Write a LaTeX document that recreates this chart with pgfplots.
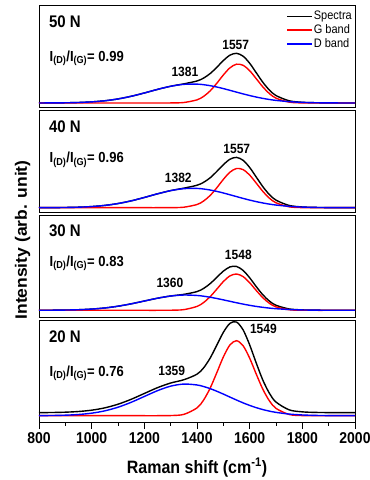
\documentclass[border=0pt]{standalone}
\usepackage{graphicx}
\usepackage{pgfplots}
\usepackage{pgfplotstable}
\pgfplotsset{compat=1.18}
\usepackage{fontspec}
\setmainfont{Liberation Sans}

\pgfplotstableread{
x spec g d
800 0.03 0 0.03
850 0.08 0 0.08
900 0.21 0 0.21
950 0.50 0 0.50
1000 1.12 0 1.12
1050 2.24 0 2.24
1100 4.06 0 4.06
1150 6.70 0 6.70
1200 10.02 0 10.02
1250 13.59 0 13.59
1300 16.76 0.05 16.71
1350 19.14 0.49 18.65
1400 22.02 3.15 18.87
1425 24.89 6.59 18.30
1450 29.44 12.13 17.31
1475 35.65 19.66 15.99
1500 42.41 28.00 14.41
1525 47.81 35.14 12.67
1550 49.68 38.80 10.88
1575 46.81 37.70 9.11
1600 39.75 32.30 7.45
1625 30.24 24.30 5.94
1650 20.72 16.10 4.62
1675 12.93 9.42 3.51
1700 7.44 4.84 2.60
1750 2.20 0.87 1.33
1800 0.71 0.09 0.62
1850 0.26 0 0.26
1900 0.10 0 0.10
1950 0.03 0 0.03
2000 0 0 0
}\tabA

\pgfplotstableread{
x spec g d
800 0.03 0 0.03
850 0.08 0 0.08
900 0.21 0 0.21
950 0.51 0 0.51
1000 1.14 0 1.14
1050 2.29 0 2.29
1100 4.15 0 4.15
1150 6.84 0 6.84
1200 10.23 0 10.23
1250 13.88 0 13.88
1300 17.11 0.05 17.06
1350 19.54 0.50 19.04
1400 22.45 3.18 19.27
1425 25.35 6.66 18.69
1450 29.92 12.25 17.67
1475 36.19 19.86 16.33
1500 43.00 28.29 14.71
1525 48.44 35.50 12.94
1550 50.31 39.20 11.11
1575 47.40 38.10 9.30
1600 40.23 32.62 7.61
1625 30.66 24.59 6.07
1650 21.03 16.31 4.72
1675 13.10 9.52 3.58
1700 7.54 4.89 2.65
1750 2.24 0.88 1.36
1800 0.72 0.09 0.63
1850 0.27 0 0.27
1900 0.10 0 0.10
1950 0.03 0 0.03
2000 0 0 0
}\tabB

\pgfplotstableread{
x spec g d
800 0.03 0 0.03
850 0.09 0 0.09
900 0.25 0 0.25
950 0.57 0 0.57
1000 1.22 0 1.22
1050 2.34 0 2.34
1100 4.09 0 4.09
1150 6.47 0 6.47
1200 9.28 0 9.28
1250 12.08 0 12.08
1300 14.33 0.07 14.26
1350 15.93 0.66 15.27
1400 18.71 3.88 14.83
1425 21.84 7.75 14.09
1450 26.68 13.62 13.06
1475 32.89 21.07 11.82
1500 39.13 28.70 10.43
1525 43.38 34.39 8.99
1550 43.85 36.29 7.56
1575 39.90 33.70 6.20
1600 32.52 27.55 4.97
1625 23.70 19.82 3.88
1650 15.52 12.56 2.96
1675 9.20 7.00 2.20
1700 5.03 3.43 1.60
1750 1.34 0.56 0.78
1800 0.40 0.05 0.35
1850 0.14 0 0.14
1900 0.05 0 0.05
1950 0.02 0 0.02
2000 0 0 0
}\tabC

\pgfplotstableread{
x spec g d
800 3.07 0 0.07
850 3.20 0 0.20
900 3.51 0 0.51
950 4.19 0 1.19
1000 5.52 0 2.52
1050 7.85 0 4.85
1100 11.47 0 8.47
1150 16.40 0 13.40
1200 22.23 0 19.23
1250 28.03 0 25.03
1300 32.69 0.14 29.55
1350 35.96 1.32 31.64
1400 41.51 7.79 30.72
1425 47.81 15.62 29.19
1450 57.65 27.59 27.06
1475 70.38 42.89 24.49
1500 83.32 58.70 21.62
1525 92.35 70.72 18.63
1550 93.66 75.00 15.66
1575 85.85 70.00 12.85
1600 70.81 57.52 10.29
1625 52.64 41.60 8.04
1650 35.61 26.48 6.13
1675 22.40 14.84 4.56
1700 13.64 7.32 3.32
1750 5.85 1.22 1.63
1800 3.84 0.12 0.72
1850 3.29 0 0.29
1900 3.11 0 0.11
1950 3.03 0 0.03
2000 3.00 0 0
}\tabD

\pgfplotsset{
  panel/.style={
    scale only axis, width=316pt, height=102pt,
    xmin=800, xmax=2000,
    ytick=\empty,
    axis line style={line width=0.8pt},
    every axis plot/.append style={line width=1.4pt, smooth},
  },
  nolab/.style={xtick=\empty},
}
\newcommand{\vs}[1]{\scalebox{1}[1.12]{#1}}
\newcommand{\pl}{\fontsize{15}{15}\selectfont\bfseries}
\newcommand{\pk}{\fontsize{12}{12}\selectfont\bfseries}
\newcommand{\rt}{\fontsize{13}{13}\selectfont\bfseries}

\begin{document}
\begin{tikzpicture}
\path[use as bounding box] (0,0) rectangle (370pt,480pt);

% Panel 1 (50 N)
\begin{axis}[panel, nolab, at={(39pt,373pt)}, anchor=south west, ymin=-4, ymax=98,
  legend style={draw=none, fill=none, at={(1,1)}, anchor=north east, xshift=-1pt, yshift=-4pt,
    font=\fontsize{11}{11}\selectfont, row sep=1.6pt, inner sep=1pt,
    nodes={inner sep=1pt}},
  legend cell align=left,
  legend image code/.code={\draw[#1] (0pt,0pt) -- (25pt,0pt);}]
\addplot[black, no marks] table[x=x, y=spec] {\tabA};
\addplot[red, no marks] table[x=x, y=g] {\tabA};
\addplot[blue, no marks] table[x=x, y=d] {\tabA};
\legend{\vs{Spectra}, \vs{G band}, \vs{D band}}
\node[anchor=west, font=\pl] at (axis cs:825,81.3) {\vs{50 N}};
\node[anchor=west, font=\rt] at (axis cs:827,44.7) {\vs{I\textsubscript{(D)}/I\textsubscript{(G)}= 0.99}};
\node[font=\pk] at (axis cs:1547,58) {\vs{1557}};
\node[font=\pk] at (axis cs:1354,31.3) {\vs{1381}};
\end{axis}

% Panel 2 (40 N)
\begin{axis}[panel, nolab, at={(39pt,268pt)}, anchor=south west, ymin=-4.3, ymax=97.7]
\addplot[black, no marks] table[x=x, y=spec] {\tabB};
\addplot[red, no marks] table[x=x, y=g] {\tabB};
\addplot[blue, no marks] table[x=x, y=d] {\tabB};
\node[anchor=west, font=\pl] at (axis cs:825,81) {\vs{40 N}};
\node[anchor=west, font=\rt] at (axis cs:827,47.7) {\vs{I\textsubscript{(D)}/I\textsubscript{(G)}= 0.96}};
\node[font=\pk] at (axis cs:1551,58.4) {\vs{1557}};
\node[font=\pk] at (axis cs:1329,29.4) {\vs{1382}};
\end{axis}

% Panel 3 (30 N)
\begin{axis}[panel, nolab, at={(39pt,163pt)}, anchor=south west, ymin=-6.7, ymax=95.3]
\addplot[black, no marks] table[x=x, y=spec] {\tabC};
\addplot[red, no marks] table[x=x, y=g] {\tabC};
\addplot[blue, no marks] table[x=x, y=d] {\tabC};
\node[anchor=west, font=\pl] at (axis cs:825,80) {\vs{30 N}};
\node[anchor=west, font=\rt] at (axis cs:827,47) {\vs{I\textsubscript{(D)}/I\textsubscript{(G)}= 0.83}};
\node[font=\pk] at (axis cs:1557,55.3) {\vs{1548}};
\node[font=\pk] at (axis cs:1297,27) {\vs{1360}};
\end{axis}

% Panel 4 (20 N)
\begin{axis}[panel, at={(39pt,58pt)}, anchor=south west, ymin=-6.3, ymax=95.7,
  xtick={800,1000,...,2000},
  xticklabels={\vs{800},\vs{1000},\vs{1200},\vs{1400},\vs{1600},\vs{1800},\vs{2000}},
  minor x tick num=1,
  tick align=outside, xtick pos=bottom,
  major tick length=7pt, minor tick length=4pt,
  every tick/.style={line width=0.8pt, black},
  xticklabel style={font=\fontsize{14}{14}\selectfont\bfseries},
  xlabel={\vs{Raman shift (cm\textsuperscript{-1})}},
  xlabel style={font=\fontsize{16}{16}\selectfont\bfseries, at={(axis description cs:0.5,0)}, anchor=center, yshift=-46pt}]
\addplot[black, no marks] table[x=x, y=spec] {\tabD};
\addplot[red, no marks] table[x=x, y=g] {\tabD};
\addplot[blue, no marks] table[x=x, y=d] {\tabD};
\node[anchor=west, font=\pl] at (axis cs:825,78.7) {\vs{20 N}};
\node[anchor=west, font=\rt] at (axis cs:827,42.4) {\vs{I\textsubscript{(D)}/I\textsubscript{(G)}= 0.76}};
\node[font=\pk] at (axis cs:1652,86.4) {\vs{1549}};
\node[font=\pk] at (axis cs:1304,44.7) {\vs{1359}};
\end{axis}

\node[rotate=90, font=\fontsize{16.5}{16.5}\selectfont\bfseries] at (22.5pt,240pt) {\scalebox{1.06}[1]{Intensity (arb. unit)}};
\end{tikzpicture}
\end{document}
